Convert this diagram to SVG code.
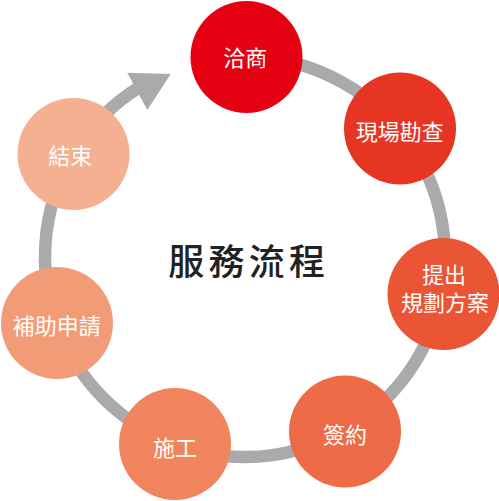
<svg xmlns="http://www.w3.org/2000/svg" width="499" height="501" viewBox="0 0 499 501">
  <style>
    .ring { fill: none; stroke: #aaaaaa; stroke-width: 12.5; }
    .head { fill: #aaaaaa; }
    .lbl { font-family: "Noto Sans CJK TC", "Noto Sans CJK SC", sans-serif; font-size: 22px; fill: #ffffff; text-anchor: middle; }
    .title { font-family: "Noto Sans CJK TC", "Noto Sans CJK SC", sans-serif; font-size: 36px; font-weight: 500; fill: #222222; text-anchor: middle; letter-spacing: 4.3px; }
  </style>
  <rect width="499" height="501" fill="#ffffff"/>
  <g id="connectors">
    <path class="ring" d="M245,57 A200,200 0 1 1 139,87.4"/>
    <polygon class="head" points="127.3,72.7 170.7,74 147.3,110"/>
  </g>
  <g id="node-1">
    <circle cx="246.5" cy="57" r="56" fill="#e50012"/>
    <text class="lbl" x="245.3" y="66">洽商</text>
  </g>
  <g id="node-2">
    <circle cx="400" cy="128.5" r="56" fill="#e73523"/>
    <text class="lbl" x="399.7" y="139.7">現場勘查</text>
  </g>
  <g id="node-3">
    <circle cx="443.5" cy="294" r="56" fill="#e95535"/>
    <text class="lbl"><tspan x="444" y="283.4">提出</tspan><tspan x="445" y="310.6">規劃方案</tspan></text>
  </g>
  <g id="node-4">
    <circle cx="345" cy="431.5" r="56" fill="#ed6c47"/>
    <text class="lbl" x="345" y="443.4">簽約</text>
  </g>
  <g id="node-5">
    <circle cx="175" cy="444" r="56" fill="#f0845d"/>
    <text class="lbl" x="175" y="456.4">施工</text>
  </g>
  <g id="node-6">
    <circle cx="57" cy="323" r="56" fill="#f29b77"/>
    <text class="lbl" x="56.7" y="333.7">補助申請</text>
  </g>
  <g id="node-7">
    <circle cx="73.5" cy="154" r="56" fill="#f4b091"/>
    <text class="lbl" x="70.3" y="163.9">結束</text>
  </g>
  <g id="title">
    <text class="title" x="248.8" y="275">服務流程</text>
  </g>
</svg>
